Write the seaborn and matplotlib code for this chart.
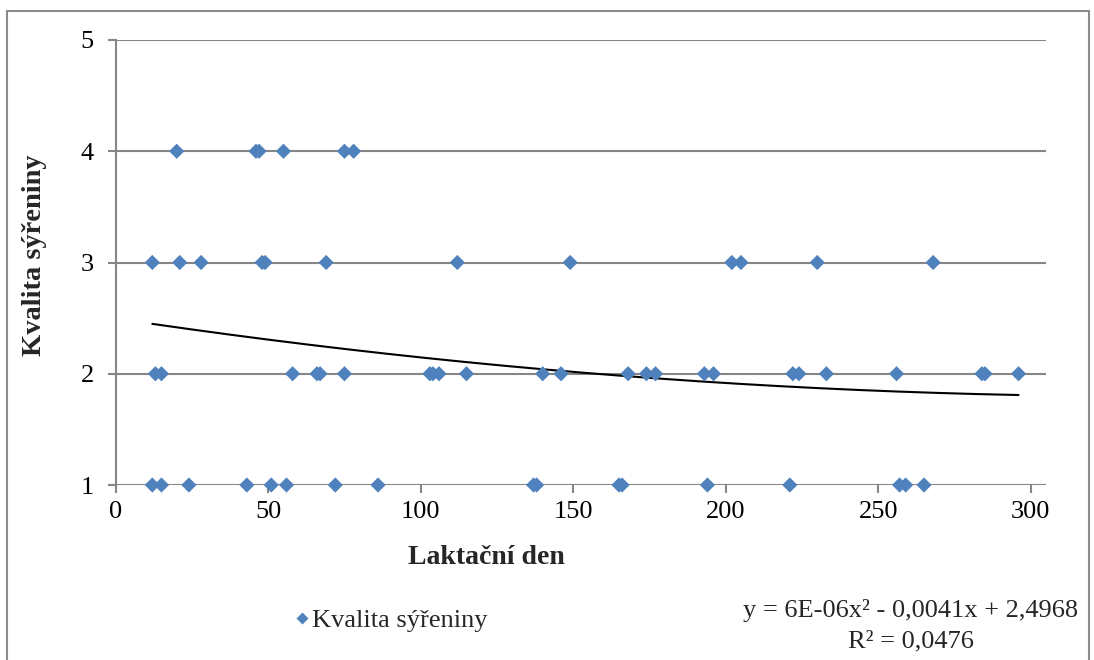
import numpy as np
import pandas as pd
import matplotlib
matplotlib.use("Agg")
import matplotlib.pyplot as plt
from matplotlib.patches import Rectangle
import seaborn as sns

# ---- data ----
days_q4 = [20, 46, 47, 55, 75, 78]
days_q3 = [12, 21, 28, 48, 49, 69, 112, 149, 202, 205, 230, 268]
days_q2 = [13, 15, 58, 66, 67, 75, 103, 104, 106, 115, 140, 146, 168, 174, 177,
           193, 196, 222, 224, 233, 256, 284, 285, 296]
days_q1 = [12, 15, 24, 43, 51, 56, 72, 86, 137, 138, 165, 166, 194, 221, 257, 259, 265]
quality_levels = [4, 3, 2, 1]

trend_coef = [6e-06, -0.0041, 2.4968]   # as printed on the chart
x_ticks = [0, 50, 100, 150, 200, 250, 300]
y_ticks = [1, 2, 3, 4, 5]

series_name = "Kvalita sýřeniny"
x_label = "Laktační den"
y_label = "Kvalita sýřeniny"
eq_line1 = "y = 6E-06x² - 0,0041x + 2,4968"
eq_line2 = "R² = 0,0476"

days = days_q4 + days_q3 + days_q2 + days_q1
qual = ([4] * len(days_q4) + [3] * len(days_q3) + [2] * len(days_q2) + [1] * len(days_q1))
df = pd.DataFrame({"day": days, "q": qual, "s": series_name})

xs = np.linspace(min(days), max(days), 200)
trend = pd.DataFrame({"day": xs, "q": np.polyval(trend_coef, xs)})

# ---- style ----
sns.set_style("white")
plt.rcParams["font.family"] = ["Liberation Serif", "DejaVu Serif"]

W, H = 1094, 660
fig = plt.figure(figsize=(W / 100, H / 100), dpi=100)
ax = fig.add_axes([115.7 / W, (H - 485) / H, (1046 - 115.7) / W, 445 / H])

grid_c = "#868686"
for yv in y_ticks:
    ax.axhline(yv, color=grid_c, lw=1.5, zorder=0)

sns.lineplot(data=trend, x="day", y="q", ax=ax, color="black", lw=1.5, zorder=2, legend=False)
sns.scatterplot(data=df, x="day", y="q", hue="s", palette=["#4F81BD"], marker="D",
                s=60, edgecolor="none", ax=ax, zorder=3, legend=True, clip_on=False)

ax.set_xlim(0, 305)
ax.set_ylim(1, 5)
ax.set_xticks(x_ticks)
ax.set_yticks(y_ticks)
ax.set_xticklabels([str(v) for v in x_ticks])
ax.set_yticklabels([str(v) for v in y_ticks])

for side in ["top", "right"]:
    ax.spines[side].set_visible(False)
ax.spines["bottom"].set_visible(False)
ax.spines["left"].set_color(grid_c)
ax.spines["left"].set_linewidth(1.5)
ax.tick_params(axis="both", direction="out", length=5.8, width=1.5, color=grid_c,
               labelsize=19, colors="black")
ax.tick_params(axis="x", pad=6)
ax.tick_params(axis="y", pad=10)
ax.tick_params(axis="both", which="both", bottom=True, left=True)
for t in ax.get_xticklines() + ax.get_yticklines():
    t.set_color(grid_c)

ax.set_xlabel("")
ax.set_ylabel("")
fig.text(486 / W, 1 - 557 / H, x_label, fontsize=20, fontweight="bold", ha="center", va="center")
fig.text(35 / W, 1 - 255 / H, y_label, fontsize=20.5, fontweight="bold", ha="center", va="center",
         rotation=90)

# legend
handles, labels = ax.get_legend_handles_labels()
leg = ax.legend(handles, [series_name], loc="center left",
                bbox_to_anchor=(282 / W, 1 - 620 / H), bbox_transform=fig.transFigure,
                frameon=False, fontsize=19, handletextpad=0.1, markerscale=0.85,
                borderpad=0, handlelength=0.54)

# trendline equation
fig.text(911 / W, 1 - 610 / H, eq_line1, fontsize=19, ha="center", va="center")
fig.text(911 / W, 1 - 641 / H, eq_line2, fontsize=19, ha="center", va="center")

# outer chart border
fig.patches.append(Rectangle((7 / W, -0.05), (1089 - 7) / W, 1.05 - 11 / H,
                             transform=fig.transFigure, fill=False, edgecolor="#8c8c8c",
                             lw=1.5, zorder=-1))

fig.savefig("out.png", dpi=100)
